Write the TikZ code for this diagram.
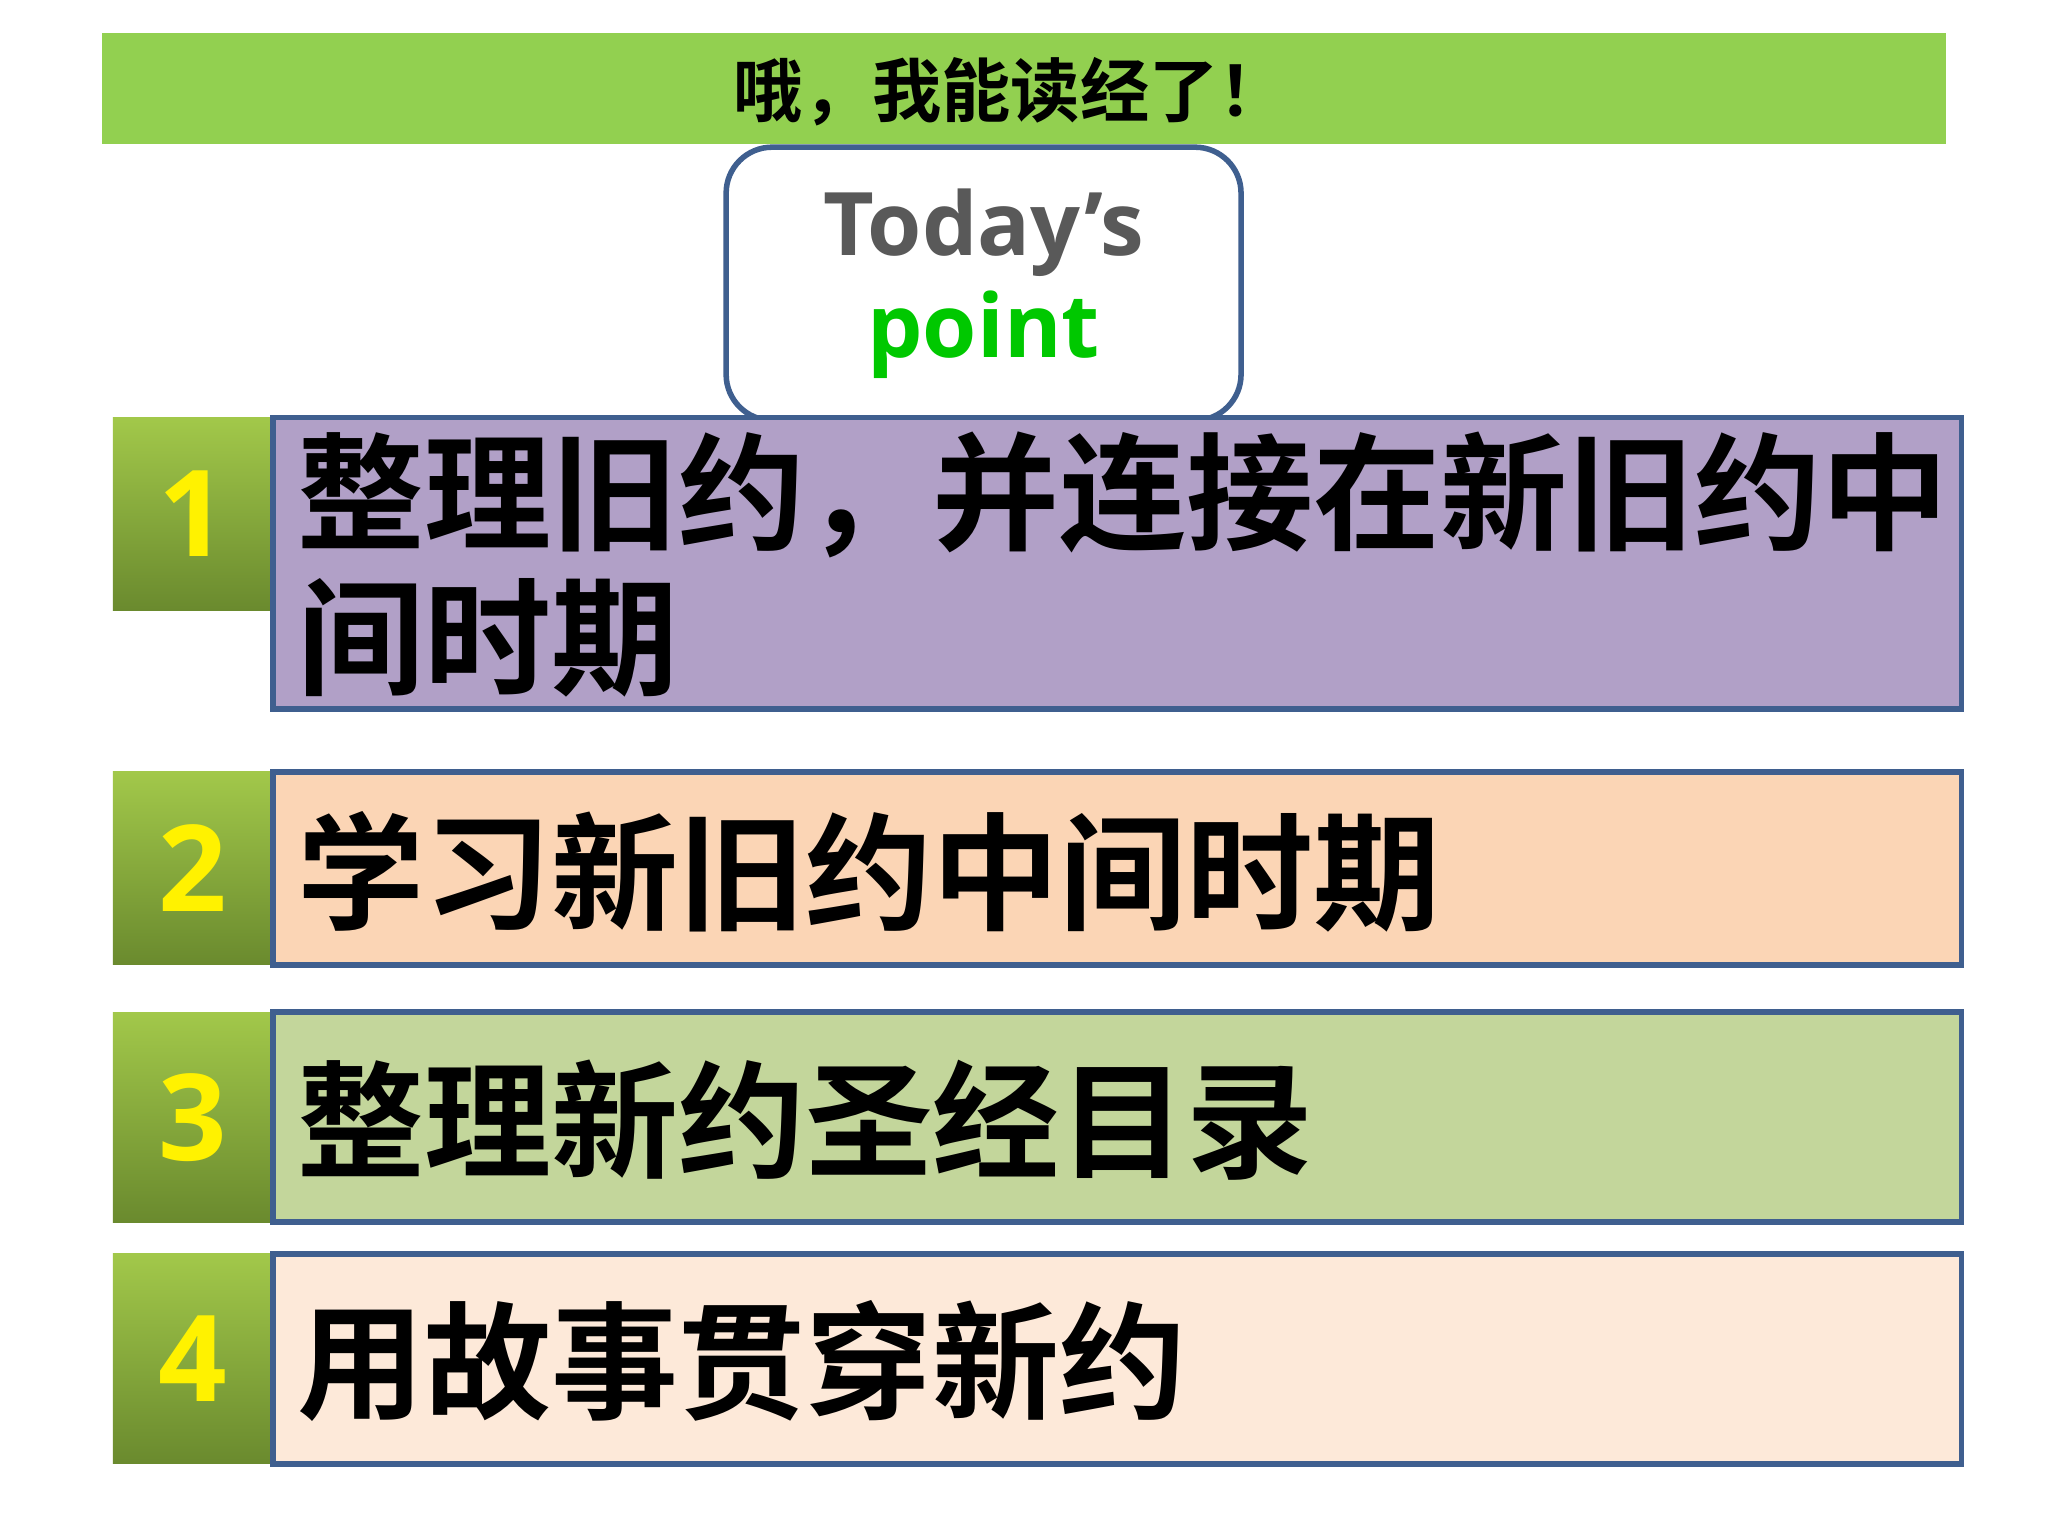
\documentclass[tikz,border=0pt]{standalone}
\usepackage{fontspec}
\newfontfamily\cjk{Noto Sans CJK SC}[BoldFont=* Bold]
\newfontfamily\lat{Open Sans}
\definecolor{banner}{HTML}{92D050}
\definecolor{edge}{HTML}{3F5F8F}
\definecolor{gtop}{HTML}{A2C84A}
\definecolor{gbot}{HTML}{6A8A2E}
\begin{document}
\begin{tikzpicture}[x=0.01cm,y=-0.01cm,
  txtbox/.style={draw=edge,line width=1.2pt},
  big/.style={font=\cjk\bfseries\fontsize{27.5}{31.5}\selectfont,anchor=west,align=left,inner sep=0pt}]
\useasboundingbox (0,0) rectangle (1560,1170);
\fill[white] (0,0) rectangle (1560,1170);
% banner
\fill[banner] (78,25) rectangle (1482,110);
\node[font=\cjk\bfseries\fontsize{15}{15}\selectfont] (title) at (770,70) {哦，我能读经了！};
% today's point
\node[draw=edge,line width=1.2pt,rounded corners=0.35cm,fill=white,minimum width=3.92cm,minimum height=2.08cm,align=center,font=\lat\bfseries\fontsize{19}{24}\selectfont,anchor=north west] (tp) at (551,110) {\textcolor[HTML]{595959}{Today’s}\\[-2pt]\textcolor[HTML]{00C800}{point}};
% rows
\foreach \i/\yt/\yb/\nb/\col in {1/318/540/465/B1A0C7,2/588/735/735/FBD5B5,3/771/931/931/C3D69B,4/955/1115/1115/FDE9D9}{
  \shade[top color=gtop,bottom color=gbot] (86,\yt) rectangle (208,\nb);
  \node[font=\lat\bfseries\fontsize{26}{26}\selectfont,text=yellow] (n\i) at (147,{(\yt+\nb)/2}) {\i};
  \definecolor{tmp}{HTML}{\col}
  \draw[txtbox,fill=tmp] (208,\yt) rectangle (1494,\yb);
}
\node[big] (t1) at (226,430) {整理旧约，并连接在新旧约中\\间时期};
\node[big] (t2) at (226,664) {学习新旧约中间时期};
\node[big] (t3) at (226,853) {整理新约圣经目录};
\node[big] (t4) at (226,1037) {用故事贯穿新约};
\end{tikzpicture}
\end{document}
